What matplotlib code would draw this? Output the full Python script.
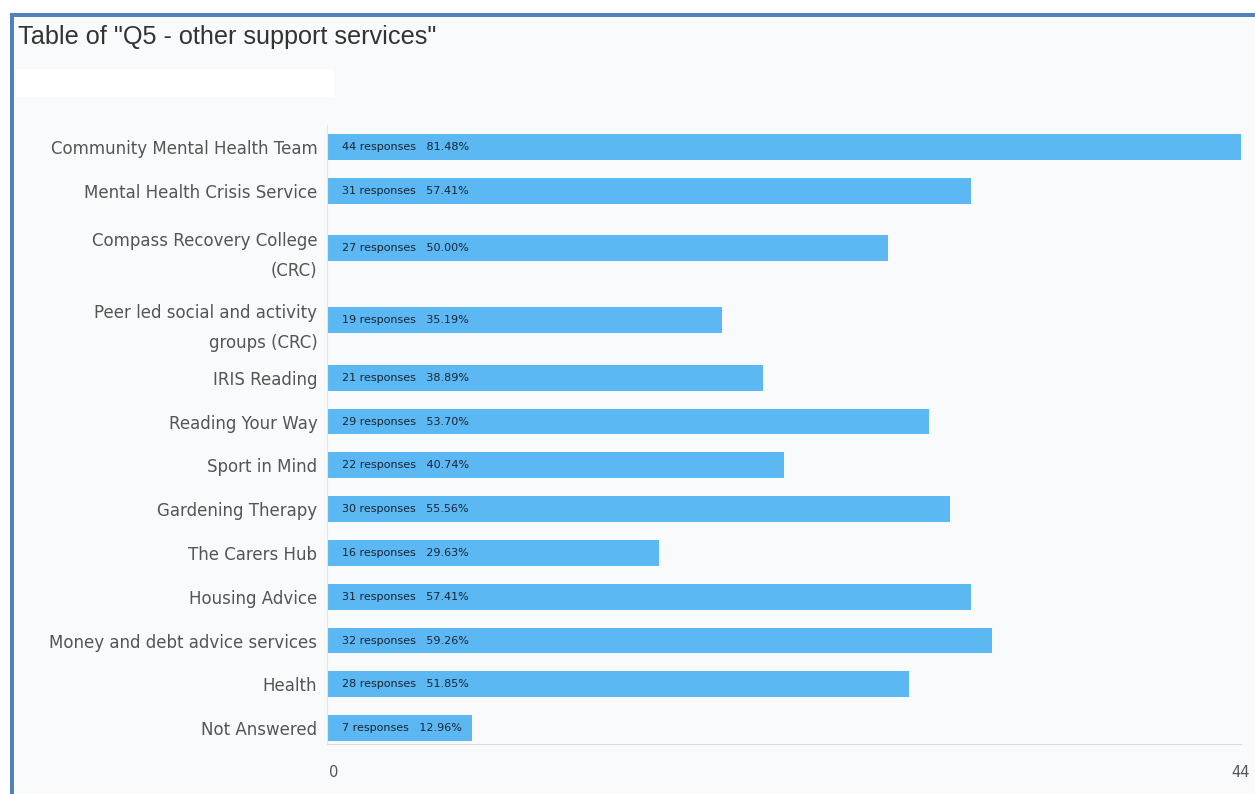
import matplotlib.pyplot as plt
import matplotlib.transforms as mtransforms
from matplotlib.patches import Rectangle

# Survey answers for Q5
services = [
    "Community Mental Health Team",
    "Mental Health Crisis Service",
    "Compass Recovery College\n(CRC)",
    "Peer led social and activity\ngroups (CRC)",
    "IRIS Reading",
    "Reading Your Way",
    "Sport in Mind",
    "Gardening Therapy",
    "The Carers Hub",
    "Housing Advice",
    "Money and debt advice services",
    "Health",
    "Not Answered",
]
responses = [44, 31, 27, 19, 21, 29, 22, 30, 16, 31, 32, 28, 7]
percents = [81.48, 57.41, 50.00, 35.19, 38.89, 53.70, 40.74, 55.56, 29.63, 57.41, 59.26, 51.85, 12.96]
x_max = 44

bar_color = "#5BB8F2"
bg = "#F9FAFB"

fig = plt.figure(figsize=(12.55, 7.94), dpi=100)
fig.patch.set_facecolor("white")

W, H = 1255, 794

# panel background and the blue frame on the top/left
fig.patches.append(Rectangle((12 / W, 0), 1, 1 - 15 / H, transform=fig.transFigure,
                             facecolor=bg, edgecolor="none", zorder=-2))
fig.patches.append(Rectangle((10 / W, 1 - 17 / H), 1, 4 / H, transform=fig.transFigure,
                             facecolor="#4F81BD", edgecolor="none", zorder=-1))
fig.patches.append(Rectangle((10 / W, 0), 4 / W, 1 - 13 / H, transform=fig.transFigure,
                             facecolor="#4F81BD", edgecolor="none", zorder=-1))
# blanked-out subtitle strip
fig.patches.append(Rectangle((16 / W, 1 - 97 / H), 318 / W, 28 / H, transform=fig.transFigure,
                             facecolor="white", edgecolor="none", zorder=-1))

fig.text(18 / W, 1 - 37 / H, 'Table of "Q5 - other support services"', fontsize=18.2,
         family="Liberation Sans", color="#333333", va="center", ha="left")

# row heights grow with the number of label lines
rows = [16 + 28 * (s.count("\n") + 1) for s in services]
centers = []
acc = 0
for h in rows:
    centers.append(acc + h / 2)
    acc += h

top_px, bot_px = 125, 744
ax = fig.add_axes([327 / W, 1 - bot_px / H, (1241 - 327) / W, (bot_px - top_px) / H])
ax.set_zorder(5)
ax.set_facecolor(bg)

ax.barh(centers, responses, height=26, color=bar_color, zorder=2)
ax.set_xlim(0, x_max)
ax.set_ylim(centers[-1] + 16, 0)

for c, n, p in zip(centers, responses, percents):
    ax.annotate(f"{n} responses   {p:.2f}%", (0, c), xytext=(11, 0), textcoords="offset points",
                va="center", ha="left", fontsize=8, color="#1A2433", zorder=3)

ax.set_yticks(centers)
ax.set_yticklabels(services, family="DejaVu Sans", fontsize=12, color="#555555",
                   linespacing=1.85)
ax.tick_params(axis="y", length=0, pad=7)

ax.set_xticks([0, x_max])
ax.set_xticklabels(["0", str(x_max)], fontsize=10.5, color="#555555")
ax.tick_params(axis="x", length=0, pad=15)
first = ax.get_xticklabels()[0]
first.set_transform(first.get_transform() +
                    mtransforms.ScaledTranslation(5 / 72, 0, fig.dpi_scale_trans))

for side in ["top", "right"]:
    ax.spines[side].set_visible(False)
ax.spines["left"].set_color("#E4E6E8")
ax.spines["bottom"].set_color("#DADDE0")

fig.savefig("out.png", dpi=100, facecolor=fig.get_facecolor())
